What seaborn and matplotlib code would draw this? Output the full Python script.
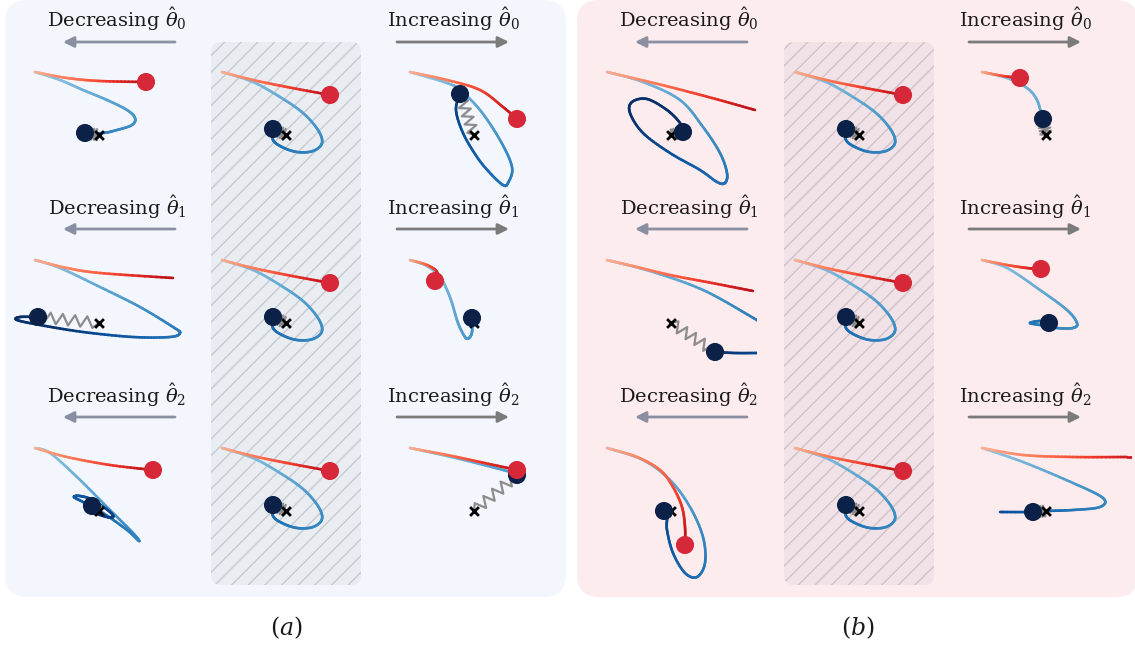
import numpy as np
import pandas as pd
import matplotlib.pyplot as plt
import seaborn as sns
from matplotlib.collections import LineCollection
from matplotlib.patches import FancyBboxPatch

# trajectories, as pixel offsets from each cell's start point (y grows downward)
# reference run (middle column, same in every row of both panels)
ref_red = [(0, 0), (31, 8), (65, 15), (108, 23)]
ref_blue = [(0, 0), (31, 10), (58, 25), (81, 41), (96, 58), (100, 71), (91, 79),
            (75, 80), (60, 75), (51, 68), (51, 57)]
ref_end = (51, 57)

# panel (a)
a_dec0_red = [(0, 0), (32, 6), (65, 9), (111, 10)]
a_dec0_blue = [(0, 0), (25, 8), (48, 18), (72, 28), (92, 38), (100, 46), (97, 53),
               (82, 58), (68, 61), (50, 61)]
a_dec0_end = (50, 61)

a_inc0_red = [(0, 0), (37, 8), (70, 18), (93, 35), (107, 47)]
a_inc0_blue = [(0, 0), (37, 11), (50, 18), (70, 38), (90, 68), (102, 95), (98, 111),
               (93, 113), (80, 101), (67, 85), (53, 61), (46, 38), (50, 22)]
a_inc0_end = (50, 22)

a_dec1_red = [(0, 0), (32, 8), (65, 13), (138, 18)]
a_dec1_blue = [(0, 0), (25, 8), (65, 27), (105, 47), (138, 67), (145, 73), (135, 77),
               (98, 77), (48, 72), (5, 65), (-18, 60), (-15, 57), (3, 57)]
a_dec1_end = (3, 57)

a_inc1_red = [(0, 0), (17, 5), (27, 12), (25, 21)]
a_inc1_blue = [(0, 0), (17, 6), (30, 17), (37, 30), (42, 43), (48, 63), (55, 77),
               (59, 78), (62, 72), (62, 58)]
a_inc1_end = (62, 58)

a_dec2_red = [(0, 0), (32, 9), (75, 17), (118, 22)]
a_dec2_blue = [(0, 0), (15, 5), (42, 29), (75, 62), (98, 85), (104, 93), (92, 82),
               (68, 65), (48, 54), (39, 49), (45, 48), (58, 52), (75, 64), (78, 69),
               (72, 69), (58, 64), (57, 58)]
a_dec2_end = (57, 58)

a_inc2_red = [(0, 0), (37, 7), (70, 14), (107, 22)]
a_inc2_blue = [(0, 0), (37, 8), (70, 16), (104, 25), (107, 27)]
a_inc2_end = (107, 27)

# panel (b)
b_dec0_red = [(0, 0), (30, 7), (63, 15), (105, 26), (148, 38)]
b_dec0_blue = [(0, 0), (36, 10), (73, 28), (96, 55), (113, 81), (120, 101), (118, 111),
               (110, 110), (93, 98), (63, 81), (36, 61), (23, 41), (25, 30), (40, 27),
               (60, 38), (73, 51), (76, 60)]
b_dec0_end = (76, 60)

b_inc0_red = [(0, 0), (21, 4), (38, 6)]
b_inc0_blue = [(0, 0), (25, 6), (45, 16), (55, 28), (60, 45), (61, 47)]
b_inc0_end = (61, 47)

b_dec1_red = [(0, 0), (30, 7), (63, 15), (105, 23), (146, 31)]
b_dec1_blue = [(0, 0), (46, 12), (96, 30), (143, 56), (165, 70), (185, 82), (188, 90),
               (175, 93), (151, 93), (128, 93), (108, 92)]
b_dec1_end = (108, 92)

b_inc1_red = [(0, 0), (25, 5), (45, 8), (59, 9)]
b_inc1_blue = [(0, 0), (25, 8), (58, 30), (85, 50), (95, 63), (91, 68), (75, 68),
               (58, 65), (48, 63), (58, 61), (67, 63)]
b_inc1_end = (67, 63)

b_dec2_red = [(0, 0), (30, 9), (53, 22), (66, 39), (75, 59), (78, 79), (78, 97)]
b_dec2_blue = [(0, 0), (36, 12), (63, 32), (83, 59), (96, 89), (98, 115), (90, 129),
               (78, 125), (66, 105), (60, 82), (60, 69), (57, 63)]
b_dec2_end = (57, 63)

b_inc2_red = [(0, 0), (41, 7), (91, 9), (145, 9), (170, 9)]
b_inc2_blue = [(0, 0), (41, 14), (91, 35), (121, 50), (118, 59), (91, 62), (65, 63),
               (51, 64), (18, 64)]
b_inc2_end = (51, 64)

target = (64, 63)

dec_labels = [r"Decreasing $\hat{\theta}_0$", r"Decreasing $\hat{\theta}_1$",
              r"Decreasing $\hat{\theta}_2$"]
inc_labels = [r"Increasing $\hat{\theta}_0$", r"Increasing $\hat{\theta}_1$",
              r"Increasing $\hat{\theta}_2$"]
panel_labels = {"a": r"$(a)$", "b": r"$(b)$"}

# (red path, blue path, red dot shown, blue end)
cells = {
    ("a", 0, 0): (a_dec0_red, a_dec0_blue, True, a_dec0_end),
    ("a", 0, 2): (a_inc0_red, a_inc0_blue, True, a_inc0_end),
    ("a", 1, 0): (a_dec1_red, a_dec1_blue, False, a_dec1_end),
    ("a", 1, 2): (a_inc1_red, a_inc1_blue, True, a_inc1_end),
    ("a", 2, 0): (a_dec2_red, a_dec2_blue, True, a_dec2_end),
    ("a", 2, 2): (a_inc2_red, a_inc2_blue, True, a_inc2_end),
    ("b", 0, 0): (b_dec0_red, b_dec0_blue, False, b_dec0_end),
    ("b", 0, 2): (b_inc0_red, b_inc0_blue, True, b_inc0_end),
    ("b", 1, 0): (b_dec1_red, b_dec1_blue, False, b_dec1_end),
    ("b", 1, 2): (b_inc1_red, b_inc1_blue, True, b_inc1_end),
    ("b", 2, 0): (b_dec2_red, b_dec2_blue, True, b_dec2_end),
    ("b", 2, 2): (b_inc2_red, b_inc2_blue, False, b_inc2_end),
}
for p in "ab":
    for r in range(3):
        cells[(p, r, 1)] = (ref_red, ref_blue, True, ref_end)

sns.set_theme(style="white")
plt.rcParams["font.family"] = ["DejaVu Serif"]
plt.rcParams["mathtext.fontset"] = "dejavuserif"
plt.rcParams["hatch.linewidth"] = 1.0

W, H = 1135, 645
fig = plt.figure(figsize=(W / 100, H / 100), dpi=100)
bg = fig.add_axes([0, 0, 1, 1])
bg.set_xlim(0, W)
bg.set_ylim(H, 0)
bg.axis("off")

panel_x = {"a": 5, "b": 577}
panel_col = {"a": "#f3f7fd", "b": "#fdecee"}
hatch_fc = {"a": "#e9edf1", "b": "#f0e2e6"}
hatch_ec = {"a": "#c6cbd1", "b": "#d0c2c6"}
col_x = {"a": [35, 222, 410], "b": [607, 795, 982]}
row_y = [72, 260, 448]
arrow_y = [42, 229, 417]
text_y = [27, 215, 403]

for p in "ab":
    x0 = panel_x[p]
    bg.add_patch(FancyBboxPatch((x0, 0), 561, 597,
                                boxstyle="round,pad=0,rounding_size=22",
                                fc=panel_col[p], ec="none", zorder=0))
    hx = col_x[p][1] - 11
    bg.add_patch(FancyBboxPatch((hx, 42), 150, 543,
                                boxstyle="round,pad=0,rounding_size=10",
                                fc=hatch_fc[p], ec=hatch_ec[p], lw=0, hatch="//", zorder=1))
    dec_cx = col_x[p][0] + 84
    inc_cx = col_x[p][2] + 43
    for r in range(3):
        bg.text(dec_cx - 2, text_y[r], dec_labels[r], ha="center", va="baseline",
                fontsize=14, color="#1a1a1a")
        bg.text(inc_cx, text_y[r], inc_labels[r], ha="center", va="baseline",
                fontsize=14, color="#1a1a1a")
        bg.annotate("", xy=(dec_cx - 56, arrow_y[r]), xytext=(dec_cx + 56, arrow_y[r]),
                    arrowprops=dict(arrowstyle="-|>", color="#8a8fa1", lw=2,
                                    mutation_scale=16, shrinkA=0, shrinkB=0))
        bg.annotate("", xy=(inc_cx + 56, arrow_y[r]), xytext=(inc_cx - 56, arrow_y[r]),
                    arrowprops=dict(arrowstyle="-|>", color="#7b7b7b", lw=2,
                                    mutation_scale=16, shrinkA=0, shrinkB=0))
    bg.text(panel_x[p] + 281, 628, panel_labels[p],
            ha="center", va="center", fontsize=17, color="#1a1a1a")


def smooth(pts, n=14):
    p = np.asarray(pts, float)
    if len(p) < 3:
        return p
    p = np.vstack([p[0], p, p[-1]])
    out = []
    t = np.linspace(0, 1, n, endpoint=False)[:, None]
    for i in range(1, len(p) - 2):
        p0, p1, p2, p3 = p[i - 1], p[i], p[i + 1], p[i + 2]
        out.append(0.5 * (2 * p1 + (-p0 + p2) * t + (2 * p0 - 5 * p1 + 4 * p2 - p3) * t ** 2
                          + (-p0 + 3 * p1 - 3 * p2 + p3) * t ** 3))
    out.append(p[-2][None])
    return np.vstack(out)


def grad_line(ax, pts, cmap, lo, hi, scale=None, z=2):
    p = smooth(pts)
    seg = np.stack([p[:-1], p[1:]], axis=1)
    s = np.cumsum(np.hypot(*np.diff(p, axis=0).T))
    frac = np.clip(s / (scale if scale else s[-1]), 0, 1)
    cols = plt.get_cmap(cmap)(lo + (hi - lo) * frac)
    ax.add_collection(LineCollection(seg, colors=cols, linewidths=1.9,
                                     capstyle="round", zorder=z))


def spring(ax, a, b, n=10, amp=5.5):
    a, b = np.array(a, float), np.array(b, float)
    v = b - a
    L = np.hypot(*v)
    u = v / L
    perp = np.array([-u[1], u[0]])
    t = np.linspace(0, 1, n + 1)
    offs = np.zeros(n + 1)
    offs[1:-1] = amp * np.where(np.arange(1, n) % 2, 1, -1)
    pts = a + np.outer(t, v) + np.outer(offs, perp)
    ax.plot(pts[:, 0], pts[:, 1], color="#8c8c8c", lw=1.6, zorder=3)


for (p, r, c), (red, blue, red_dot, end) in cells.items():
    ox, oy = col_x[p][c], row_y[r]
    left, right, top, bottom = -25, 150, -15, 150
    ax = fig.add_axes([(ox + left) / W, 1 - (oy + bottom) / H,
                       (right - left) / W, (bottom - top) / H])
    grad_line(ax, blue, "Blues", 0.38, 1.0, scale=300, z=2)
    grad_line(ax, red, "Reds", 0.28, 0.8, z=2.5)
    spring(ax, end, target)
    sns.scatterplot(x=[target[0]], y=[target[1]], ax=ax, marker="x", s=40,
                    color="black", linewidth=2, zorder=4)
    sns.scatterplot(x=[end[0]], y=[end[1]], ax=ax, s=170, color="#0b2148",
                    edgecolor="none", zorder=5)
    if red_dot:
        sns.scatterplot(x=[red[-1][0]], y=[red[-1][1]], ax=ax, s=170, color="#d62839",
                        edgecolor="none", zorder=6)
    ax.set_xlim(left, right)
    ax.set_ylim(bottom, top)
    ax.axis("off")

fig.savefig("out.png", dpi=100)
